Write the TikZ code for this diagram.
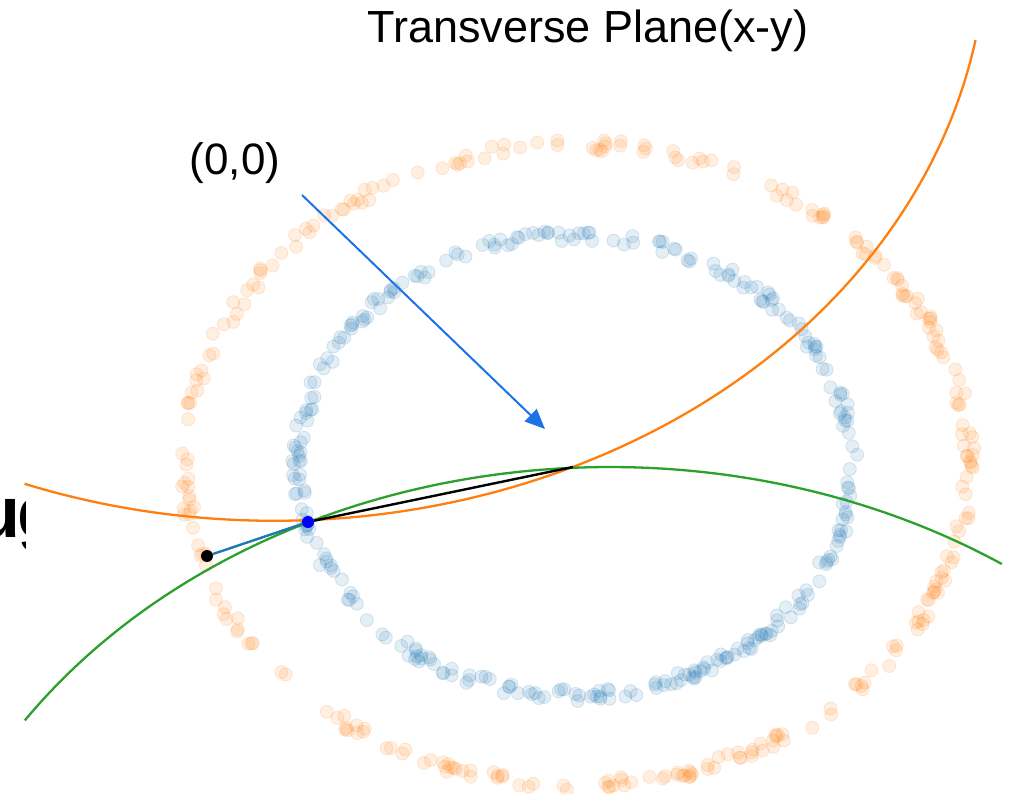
\documentclass[tikz,border=0pt]{standalone}
\usepackage{fontspec}
\setmainfont{Liberation Sans}
\usetikzlibrary{arrows.meta}
\definecolor{mplblue}{HTML}{1F77B4}
\definecolor{mplorange}{HTML}{FF7F0E}
\definecolor{mplgreen}{HTML}{2CA02C}
\definecolor{arrowblue}{HTML}{1A73E8}
\begin{document}
\begin{tikzpicture}[x=1pt,y=-1pt,
  odot/.style={fill=mplorange, fill opacity=0.12, draw=mplorange, draw opacity=0.16, line width=0.8pt},
  bdot/.style={fill=mplblue, fill opacity=0.12, draw=mplblue, draw opacity=0.16, line width=0.8pt},
  curveline/.style={line width=2.3pt},
  dotnode/.style={circle, inner sep=0pt, minimum size=12pt, draw=none},
  seg/.style={line width=2.4pt}]
\useasboundingbox (0,0) rectangle (1010,794);
\fill[white] (0,0) rectangle (1010,794);
% clipped text at the left edge
\begin{scope}
\clip (0,0) rectangle (25,794);
\node[anchor=base west, inner sep=0pt, font=\fontsize{72}{80}\selectfont\bfseries] (cut) at (-24,537) {u\kern-3pt g};
\end{scope}
% orange ring of points
\pgfmathsetseed{4242}
\foreach \i in {1,...,300}{
  \pgfmathsetmacro{\a}{360*rnd}
  \pgfmathsetmacro{\d}{6*rand}
  \filldraw[odot] ({577+(392+\d)*cos(\a)},{465+(320+\d)*sin(\a)}) circle (6.5pt);
}
% blue ring of points
\foreach \i in {1,...,310}{
  \pgfmathsetmacro{\a}{360*rnd}
  \pgfmathsetmacro{\d}{6*rand}
  \filldraw[bdot] ({575+(277+\d)*cos(\a)},{465+(230+\d)*sin(\a)}) circle (6.5pt);
}
% curves
\draw[curveline, mplorange] plot[domain=10.2:110.5, samples=150, smooth] ({274.1+712.7*cos(\x)},{-63.4+584.2*sin(\x)});
\draw[curveline, mplgreen] plot[domain=214.3:303.6, samples=150, smooth] ({609.9+708.3*cos(\x)},{1047.6+580.6*sin(\x)});
% points and segments
\coordinate (pc) at (573,467);
\node[dotnode, fill=black] (pb) at (207,556) {};
\node[dotnode, fill=blue] (pa) at (308,522) {};
\draw[seg, mplblue] (pb) -- (pa);
\draw[seg, black] (pa) -- (pc);
% arrow
\coordinate (as) at (302,195);
\coordinate (ae) at (545,429);
\draw[arrowblue, line width=2pt, -{Triangle[length=20pt,width=17pt]}] (as) -- (ae);
% labels
\node[anchor=base, inner sep=0pt, font=\fontsize{45}{54}\selectfont] (title) at (588,43) {Transverse Plane(x-y)};
\node[anchor=base, inner sep=0pt, font=\fontsize{44}{50}\selectfont] (origin) at (235,175) {(0,0)};
\end{tikzpicture}
\end{document}
